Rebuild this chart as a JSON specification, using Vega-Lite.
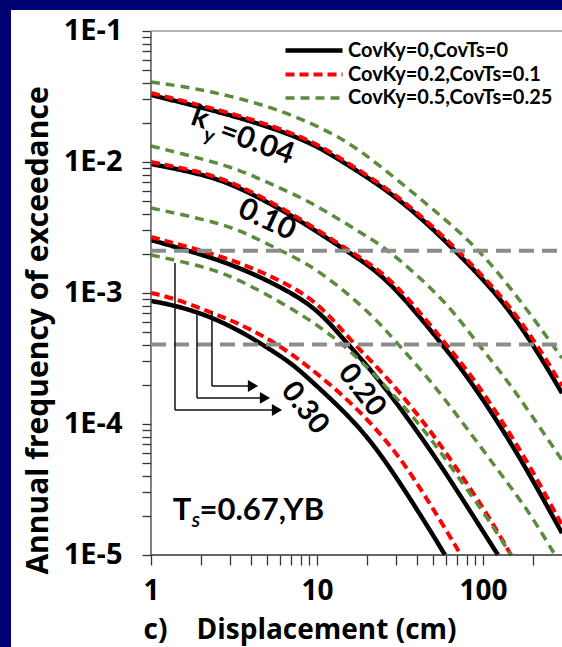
{
  "$schema": "https://vega.github.io/schema/vega-lite/v6.json",
  "width": 551,
  "height": 637,
  "autosize": {"type": "none"},
  "padding": {"left": 11, "top": 10, "right": 0, "bottom": 0},
  "background": "#000073",
  "config": {
    "view": {"fill": "white", "stroke": null},
    "font": "Lato"
  },
  "datasets": {
    "curves": [
      {"s": "CovKy=0,CovTs=0", "k": "0.04", "D": 1, "P": 0.03247},
      {"s": "CovKy=0,CovTs=0", "k": "0.04", "D": 3.437, "P": 0.02206},
      {"s": "CovKy=0,CovTs=0", "k": "0.04", "D": 8.706, "P": 0.01472},
      {"s": "CovKy=0,CovTs=0", "k": "0.04", "D": 13.76, "P": 0.01035},
      {"s": "CovKy=0,CovTs=0", "k": "0.04", "D": 31.62, "P": 0.005312},
      {"s": "CovKy=0,CovTs=0", "k": "0.04", "D": 67.81, "P": 0.002129},
      {"s": "CovKy=0,CovTs=0", "k": "0.04", "D": 126.6, "P": 0.000932},
      {"s": "CovKy=0,CovTs=0", "k": "0.04", "D": 200.1, "P": 0.000408},
      {"s": "CovKy=0,CovTs=0", "k": "0.04", "D": 299.2, "P": 0.000172},
      {"s": "CovKy=0,CovTs=0", "k": "0.10", "D": 1, "P": 0.009654},
      {"s": "CovKy=0,CovTs=0", "k": "0.10", "D": 2.175, "P": 0.00796},
      {"s": "CovKy=0,CovTs=0", "k": "0.10", "D": 3.437, "P": 0.006331},
      {"s": "CovKy=0,CovTs=0", "k": "0.10", "D": 5.431, "P": 0.004696},
      {"s": "CovKy=0,CovTs=0", "k": "0.10", "D": 8.706, "P": 0.003304},
      {"s": "CovKy=0,CovTs=0", "k": "0.10", "D": 14.75, "P": 0.002129},
      {"s": "CovKy=0,CovTs=0", "k": "0.10", "D": 21.75, "P": 0.001551},
      {"s": "CovKy=0,CovTs=0", "k": "0.10", "D": 31.62, "P": 0.001},
      {"s": "CovKy=0,CovTs=0", "k": "0.10", "D": 56.62, "P": 0.000408},
      {"s": "CovKy=0,CovTs=0", "k": "0.10", "D": 83.5, "P": 0.0002167},
      {"s": "CovKy=0,CovTs=0", "k": "0.10", "D": 132.0, "P": 0.00009},
      {"s": "CovKy=0,CovTs=0", "k": "0.10", "D": 191.9, "P": 0.0000408},
      {"s": "CovKy=0,CovTs=0", "k": "0.10", "D": 299.2, "P": 0.0000147},
      {"s": "CovKy=0,CovTs=0", "k": "0.20", "D": 1, "P": 0.002539},
      {"s": "CovKy=0,CovTs=0", "k": "0.20", "D": 2.175, "P": 0.001916},
      {"s": "CovKy=0,CovTs=0", "k": "0.20", "D": 3.437, "P": 0.001551},
      {"s": "CovKy=0,CovTs=0", "k": "0.20", "D": 5.431, "P": 0.001192},
      {"s": "CovKy=0,CovTs=0", "k": "0.20", "D": 8.706, "P": 0.000854},
      {"s": "CovKy=0,CovTs=0", "k": "0.20", "D": 11.49, "P": 0.000622},
      {"s": "CovKy=0,CovTs=0", "k": "0.20", "D": 15.16, "P": 0.000415},
      {"s": "CovKy=0,CovTs=0", "k": "0.20", "D": 23.96, "P": 0.0002167},
      {"s": "CovKy=0,CovTs=0", "k": "0.20", "D": 47.95, "P": 0.0000645},
      {"s": "CovKy=0,CovTs=0", "k": "0.20", "D": 72.67, "P": 0.0000287},
      {"s": "CovKy=0,CovTs=0", "k": "0.20", "D": 123.1, "P": 0.00001},
      {"s": "CovKy=0,CovTs=0", "k": "0.30", "D": 1, "P": 0.000869},
      {"s": "CovKy=0,CovTs=0", "k": "0.30", "D": 1.357, "P": 0.00081},
      {"s": "CovKy=0,CovTs=0", "k": "0.30", "D": 2.175, "P": 0.000679},
      {"s": "CovKy=0,CovTs=0", "k": "0.30", "D": 3.437, "P": 0.000513},
      {"s": "CovKy=0,CovTs=0", "k": "0.30", "D": 4.536, "P": 0.000415},
      {"s": "CovKy=0,CovTs=0", "k": "0.30", "D": 6.876, "P": 0.000297},
      {"s": "CovKy=0,CovTs=0", "k": "0.30", "D": 8.706, "P": 0.0002285},
      {"s": "CovKy=0,CovTs=0", "k": "0.30", "D": 17.42, "P": 0.0001018},
      {"s": "CovKy=0,CovTs=0", "k": "0.30", "D": 27.54, "P": 0.000047},
      {"s": "CovKy=0,CovTs=0", "k": "0.30", "D": 47.95, "P": 0.0000155},
      {"s": "CovKy=0,CovTs=0", "k": "0.30", "D": 59.03, "P": 0.00001},

      {"s": "CovKy=0.2,CovTs=0.1", "k": "0.04", "D": 1, "P": 0.03362},
      {"s": "CovKy=0.2,CovTs=0.1", "k": "0.04", "D": 3.437, "P": 0.02285},
      {"s": "CovKy=0.2,CovTs=0.1", "k": "0.04", "D": 8.706, "P": 0.01525},
      {"s": "CovKy=0.2,CovTs=0.1", "k": "0.04", "D": 13.76, "P": 0.01073},
      {"s": "CovKy=0.2,CovTs=0.1", "k": "0.04", "D": 31.62, "P": 0.0055},
      {"s": "CovKy=0.2,CovTs=0.1", "k": "0.04", "D": 70.69, "P": 0.002129},
      {"s": "CovKy=0.2,CovTs=0.1", "k": "0.04", "D": 132.0, "P": 0.000932},
      {"s": "CovKy=0.2,CovTs=0.1", "k": "0.04", "D": 211.5, "P": 0.000408},
      {"s": "CovKy=0.2,CovTs=0.1", "k": "0.04", "D": 299.2, "P": 0.000195},
      {"s": "CovKy=0.2,CovTs=0.1", "k": "0.10", "D": 1, "P": 0.01},
      {"s": "CovKy=0.2,CovTs=0.1", "k": "0.10", "D": 2.175, "P": 0.008241},
      {"s": "CovKy=0.2,CovTs=0.1", "k": "0.10", "D": 3.437, "P": 0.006559},
      {"s": "CovKy=0.2,CovTs=0.1", "k": "0.10", "D": 5.431, "P": 0.004864},
      {"s": "CovKy=0.2,CovTs=0.1", "k": "0.10", "D": 8.706, "P": 0.003422},
      {"s": "CovKy=0.2,CovTs=0.1", "k": "0.10", "D": 15.37, "P": 0.002129},
      {"s": "CovKy=0.2,CovTs=0.1", "k": "0.10", "D": 22.98, "P": 0.001551},
      {"s": "CovKy=0.2,CovTs=0.1", "k": "0.10", "D": 33.43, "P": 0.001},
      {"s": "CovKy=0.2,CovTs=0.1", "k": "0.10", "D": 59.86, "P": 0.000408},
      {"s": "CovKy=0.2,CovTs=0.1", "k": "0.10", "D": 89.5, "P": 0.0002167},
      {"s": "CovKy=0.2,CovTs=0.1", "k": "0.10", "D": 141.4, "P": 0.00009},
      {"s": "CovKy=0.2,CovTs=0.1", "k": "0.10", "D": 205.7, "P": 0.0000408},
      {"s": "CovKy=0.2,CovTs=0.1", "k": "0.10", "D": 299.2, "P": 0.0000169},
      {"s": "CovKy=0.2,CovTs=0.1", "k": "0.20", "D": 1, "P": 0.002677},
      {"s": "CovKy=0.2,CovTs=0.1", "k": "0.20", "D": 2.175, "P": 0.002056},
      {"s": "CovKy=0.2,CovTs=0.1", "k": "0.20", "D": 3.437, "P": 0.001694},
      {"s": "CovKy=0.2,CovTs=0.1", "k": "0.20", "D": 5.431, "P": 0.001325},
      {"s": "CovKy=0.2,CovTs=0.1", "k": "0.20", "D": 8.706, "P": 0.000965},
      {"s": "CovKy=0.2,CovTs=0.1", "k": "0.20", "D": 11.97, "P": 0.000668},
      {"s": "CovKy=0.2,CovTs=0.1", "k": "0.20", "D": 16.48, "P": 0.000415},
      {"s": "CovKy=0.2,CovTs=0.1", "k": "0.20", "D": 27.54, "P": 0.0002167},
      {"s": "CovKy=0.2,CovTs=0.1", "k": "0.20", "D": 47.95, "P": 0.00009},
      {"s": "CovKy=0.2,CovTs=0.1", "k": "0.20", "D": 65.96, "P": 0.0000504},
      {"s": "CovKy=0.2,CovTs=0.1", "k": "0.20", "D": 105.7, "P": 0.0000209},
      {"s": "CovKy=0.2,CovTs=0.1", "k": "0.20", "D": 147.5, "P": 0.00001},
      {"s": "CovKy=0.2,CovTs=0.1", "k": "0.30", "D": 1, "P": 0.001},
      {"s": "CovKy=0.2,CovTs=0.1", "k": "0.30", "D": 1.357, "P": 0.000916},
      {"s": "CovKy=0.2,CovTs=0.1", "k": "0.30", "D": 2.267, "P": 0.000716},
      {"s": "CovKy=0.2,CovTs=0.1", "k": "0.30", "D": 3.437, "P": 0.00058},
      {"s": "CovKy=0.2,CovTs=0.1", "k": "0.30", "D": 5.431, "P": 0.00043},
      {"s": "CovKy=0.2,CovTs=0.1", "k": "0.30", "D": 8.706, "P": 0.000282},
      {"s": "CovKy=0.2,CovTs=0.1", "k": "0.30", "D": 17.42, "P": 0.0001348},
      {"s": "CovKy=0.2,CovTs=0.1", "k": "0.30", "D": 30.33, "P": 0.0000601},
      {"s": "CovKy=0.2,CovTs=0.1", "k": "0.30", "D": 41.74, "P": 0.0000325},
      {"s": "CovKy=0.2,CovTs=0.1", "k": "0.30", "D": 55.08, "P": 0.0000185},
      {"s": "CovKy=0.2,CovTs=0.1", "k": "0.30", "D": 73.7, "P": 0.00001},

      {"s": "CovKy=0.5,CovTs=0.25", "k": "0.04", "D": 1, "P": 0.0408},
      {"s": "CovKy=0.5,CovTs=0.25", "k": "0.04", "D": 2.175, "P": 0.03545},
      {"s": "CovKy=0.5,CovTs=0.25", "k": "0.04", "D": 5.431, "P": 0.02629},
      {"s": "CovKy=0.5,CovTs=0.25", "k": "0.04", "D": 11.49, "P": 0.01755},
      {"s": "CovKy=0.5,CovTs=0.25", "k": "0.04", "D": 18.16, "P": 0.01235},
      {"s": "CovKy=0.5,CovTs=0.25", "k": "0.04", "D": 31.62, "P": 0.007037},
      {"s": "CovKy=0.5,CovTs=0.25", "k": "0.04", "D": 55.08, "P": 0.003937},
      {"s": "CovKy=0.5,CovTs=0.25", "k": "0.04", "D": 95.9, "P": 0.002129},
      {"s": "CovKy=0.5,CovTs=0.25", "k": "0.04", "D": 167.1, "P": 0.000884},
      {"s": "CovKy=0.5,CovTs=0.25", "k": "0.04", "D": 260.4, "P": 0.000408},
      {"s": "CovKy=0.5,CovTs=0.25", "k": "0.04", "D": 299.2, "P": 0.000319},
      {"s": "CovKy=0.5,CovTs=0.25", "k": "0.10", "D": 1, "P": 0.01325},
      {"s": "CovKy=0.5,CovTs=0.25", "k": "0.10", "D": 2.175, "P": 0.01035},
      {"s": "CovKy=0.5,CovTs=0.25", "k": "0.10", "D": 3.437, "P": 0.008687},
      {"s": "CovKy=0.5,CovTs=0.25", "k": "0.10", "D": 5.431, "P": 0.006675},
      {"s": "CovKy=0.5,CovTs=0.25", "k": "0.10", "D": 8.706, "P": 0.005128},
      {"s": "CovKy=0.5,CovTs=0.25", "k": "0.10", "D": 13.76, "P": 0.003607},
      {"s": "CovKy=0.5,CovTs=0.25", "k": "0.10", "D": 21.75, "P": 0.002539},
      {"s": "CovKy=0.5,CovTs=0.25", "k": "0.10", "D": 26.41, "P": 0.002129},
      {"s": "CovKy=0.5,CovTs=0.25", "k": "0.10", "D": 34.85, "P": 0.001607},
      {"s": "CovKy=0.5,CovTs=0.25", "k": "0.10", "D": 60.69, "P": 0.000839},
      {"s": "CovKy=0.5,CovTs=0.25", "k": "0.10", "D": 93.3, "P": 0.000408},
      {"s": "CovKy=0.5,CovTs=0.25", "k": "0.10", "D": 139.5, "P": 0.0002167},
      {"s": "CovKy=0.5,CovTs=0.25", "k": "0.10", "D": 191.9, "P": 0.0001213},
      {"s": "CovKy=0.5,CovTs=0.25", "k": "0.10", "D": 299.2, "P": 0.0000531},
      {"s": "CovKy=0.5,CovTs=0.25", "k": "0.20", "D": 1, "P": 0.004455},
      {"s": "CovKy=0.5,CovTs=0.25", "k": "0.20", "D": 2.175, "P": 0.003607},
      {"s": "CovKy=0.5,CovTs=0.25", "k": "0.20", "D": 3.437, "P": 0.003027},
      {"s": "CovKy=0.5,CovTs=0.25", "k": "0.20", "D": 5.431, "P": 0.002245},
      {"s": "CovKy=0.5,CovTs=0.25", "k": "0.20", "D": 8.706, "P": 0.001694},
      {"s": "CovKy=0.5,CovTs=0.25", "k": "0.20", "D": 13.76, "P": 0.001111},
      {"s": "CovKy=0.5,CovTs=0.25", "k": "0.20", "D": 21.75, "P": 0.000668},
      {"s": "CovKy=0.5,CovTs=0.25", "k": "0.20", "D": 30.33, "P": 0.000415},
      {"s": "CovKy=0.5,CovTs=0.25", "k": "0.20", "D": 47.95, "P": 0.0002167},
      {"s": "CovKy=0.5,CovTs=0.25", "k": "0.20", "D": 75.77, "P": 0.0001018},
      {"s": "CovKy=0.5,CovTs=0.25", "k": "0.20", "D": 132.0, "P": 0.0000394},
      {"s": "CovKy=0.5,CovTs=0.25", "k": "0.20", "D": 191.9, "P": 0.0000209},
      {"s": "CovKy=0.5,CovTs=0.25", "k": "0.20", "D": 271.4, "P": 0.00001},
      {"s": "CovKy=0.5,CovTs=0.25", "k": "0.30", "D": 1, "P": 0.00195},
      {"s": "CovKy=0.5,CovTs=0.25", "k": "0.30", "D": 2.175, "P": 0.001579},
      {"s": "CovKy=0.5,CovTs=0.25", "k": "0.30", "D": 3.437, "P": 0.001257},
      {"s": "CovKy=0.5,CovTs=0.25", "k": "0.30", "D": 6.876, "P": 0.000782},
      {"s": "CovKy=0.5,CovTs=0.25", "k": "0.30", "D": 13.76, "P": 0.000438},
      {"s": "CovKy=0.5,CovTs=0.25", "k": "0.30", "D": 27.54, "P": 0.000182},
      {"s": "CovKy=0.5,CovTs=0.25", "k": "0.30", "D": 47.95, "P": 0.0000796},
      {"s": "CovKy=0.5,CovTs=0.25", "k": "0.30", "D": 65.96, "P": 0.0000446},
      {"s": "CovKy=0.5,CovTs=0.25", "k": "0.30", "D": 105.7, "P": 0.0000195},
      {"s": "CovKy=0.5,CovTs=0.25", "k": "0.30", "D": 147.5, "P": 0.00001}
    ]
  },
  "layer": [
    {
      "data": {"name": "curves"},
      "mark": {"type": "line", "interpolate": "basis"},
      "encoding": {
        "x": {
          "field": "D", "type": "quantitative",
          "scale": {"type": "log", "domain": [0.1435, 299.2], "nice": false},
          "axis": {
            "values": [1, 2, 3, 4, 5, 6, 7, 8, 9, 10, 20, 30, 40, 50, 60, 70, 80, 90, 100, 200],
            "offset": -92,
            "domain": false,
            "grid": false,
            "ticks": true,
            "tickSize": 10,
            "tickWidth": 1.3,
            "tickColor": "#333333",
            "labelExpr": "datum.value == 1 ? '1' : datum.value == 10 ? '10' : datum.value == 100 ? '100' : ''",
            "labelFont": "Open Sans",
            "labelFontSize": 28,
            "labelFontWeight": "bold",
            "labelColor": "black",
            "labelBaseline": "alphabetic",
            "labelPadding": 34,
            "labelOverlap": false,
            "labelFlush": false,
            "labelBound": false,
            "title": "c)\u00a0\u00a0\u00a0\u00a0Displacement (cm)",
            "titleFont": "Open Sans",
            "titleFontSize": 28,
            "titleFontWeight": "bold",
            "titleColor": "black",
            "titleX": 132,
            "titleY": 83,
            "titleAlign": "left",
            "titleBaseline": "alphabetic"
          }
        },
        "y": {
          "field": "P", "type": "quantitative",
          "scale": {"type": "log", "domain": [0.000001985, 0.1445], "nice": false},
          "axis": {
            "values": [0.00001, 0.00002, 0.00003, 0.00004, 0.00005, 0.00006, 0.00007, 0.00008, 0.00009,
                       0.0001, 0.0002, 0.0003, 0.0004, 0.0005, 0.0006, 0.0007, 0.0008, 0.0009,
                       0.001, 0.002, 0.003, 0.004, 0.005, 0.006, 0.007, 0.008, 0.009,
                       0.01, 0.02, 0.03, 0.04, 0.05, 0.06, 0.07, 0.08, 0.09, 0.1],
            "offset": -140,
            "domain": false,
            "grid": false,
            "tickSize": 9,
            "tickWidth": 1.3,
            "tickColor": "#333333",
            "labelExpr": "datum.value == 0.1 ? '1E-1' : datum.value == 0.01 ? '1E-2' : datum.value == 0.001 ? '1E-3' : datum.value == 0.0001 ? '1E-4' : datum.value == 0.00001 ? '1E-5' : ''",
            "labelFont": "Open Sans",
            "labelFontSize": 29,
            "labelFontWeight": "bold",
            "labelColor": "black",
            "labelPadding": 20,
            "labelOverlap": false,
            "labelFlush": false,
            "labelBound": false,
            "title": "Annual frequency of exceedance",
            "titleFont": "Open Sans",
            "titleFontSize": 30,
            "titleFontWeight": "bold",
            "titleColor": "black",
            "titleX": -104,
            "titleY": 320,
            "titleAngle": -90,
            "titleAlign": "center",
            "titleBaseline": "alphabetic"
          }
        },
        "detail": {"field": "k"},
        "color": {
          "field": "s", "type": "nominal",
          "scale": {
            "domain": ["CovKy=0,CovTs=0", "CovKy=0.2,CovTs=0.1", "CovKy=0.5,CovTs=0.25"],
            "range": ["#000000", "#ff0000", "#5b8b3c"]
          },
          "legend": {
            "orient": "none",
            "legendX": 290.5,
            "legendY": 28,
            "title": null,
            "padding": 0,
            "symbolType": "M-2.85,0H2.85",
            "symbolSize": 400,
            "labelFont": "Lato",
            "labelFontSize": 20,
            "labelFontWeight": "bold",
            "labelColor": "black",
            "labelOffset": 21.5,
            "labelLimit": 400,
            "rowPadding": 1.5
          }
        },
        "strokeDash": {
          "field": "s", "type": "nominal",
          "scale": {
            "domain": ["CovKy=0,CovTs=0", "CovKy=0.2,CovTs=0.1", "CovKy=0.5,CovTs=0.25"],
            "range": [[1, 0], [9, 5], [9, 6]]
          }
        },
        "strokeWidth": {
          "field": "s", "type": "nominal",
          "scale": {
            "domain": ["CovKy=0,CovTs=0", "CovKy=0.2,CovTs=0.1", "CovKy=0.5,CovTs=0.25"],
            "range": [4.5, 3.5, 3]
          }
        }
      }
    },
    {
      "data": {"values": [{"D": 1, "P": 0.00001, "D2": 1, "P2": 0.1}]},
      "mark": {"type": "rule", "color": "#555555", "strokeWidth": 1.5},
      "encoding": {
        "x": {"field": "D", "type": "quantitative"},
        "y": {"field": "P", "type": "quantitative"},
        "x2": {"field": "D2"},
        "y2": {"field": "P2"}
      }
    },
    {
      "data": {"values": [{"D": 1, "P": 0.1, "D2": 299.2, "P2": 0.1}]},
      "mark": {"type": "rule", "color": "#9a9a9a", "strokeWidth": 1.5},
      "encoding": {
        "x": {"field": "D", "type": "quantitative"},
        "y": {"field": "P", "type": "quantitative"},
        "x2": {"field": "D2"},
        "y2": {"field": "P2"}
      }
    },
    {
      "data": {"values": [{"D": 1, "P": 0.00001, "D2": 299.2, "P2": 0.00001}]},
      "mark": {"type": "rule", "color": "#333333", "strokeWidth": 1.5},
      "encoding": {
        "x": {"field": "D", "type": "quantitative"},
        "y": {"field": "P", "type": "quantitative"},
        "x2": {"field": "D2"},
        "y2": {"field": "P2"}
      }
    },
    {
      "data": {"values": [{"D": 1, "P": 0.0021, "D2": 299.2, "P2": 0.0021}, {"D": 1, "P": 0.000404, "D2": 299.2, "P2": 0.000404}]},
      "mark": {"type": "rule", "color": "#8c8c8c", "strokeWidth": 4, "strokeDash": [15, 8]},
      "encoding": {
        "x": {"field": "D", "type": "quantitative"},
        "y": {"field": "P", "type": "quantitative"},
        "x2": {"field": "D2"},
        "y2": {"field": "P2"}
      }
    },
    {
      "data": {"values": [
        {"D": 1.395, "P": 0.001694, "D2": 1.395, "P2": 0.0001279},
        {"D": 1.395, "P": 0.0001279, "D2": 5.741, "P2": 0.0001279},
        {"D": 1.893, "P": 0.000704, "D2": 1.893, "P2": 0.000158},
        {"D": 1.893, "P": 0.000158, "D2": 4.861, "P2": 0.000158},
        {"D": 2.33, "P": 0.000729, "D2": 2.33, "P2": 0.000195},
        {"D": 2.33, "P": 0.000195, "D2": 4.117, "P2": 0.000195}
      ]},
      "mark": {"type": "rule", "color": "#111111", "strokeWidth": 1.5},
      "encoding": {
        "x": {"field": "D", "type": "quantitative"},
        "y": {"field": "P", "type": "quantitative"},
        "x2": {"field": "D2"},
        "y2": {"field": "P2"}
      }
    },
    {
      "data": {"values": [
        {"D": 5.741, "P": 0.0001279},
        {"D": 4.861, "P": 0.000158},
        {"D": 4.117, "P": 0.000195}
      ]},
      "mark": {"type": "point", "shape": "triangle-right", "filled": true, "color": "black", "size": 140, "opacity": 1},
      "encoding": {
        "x": {"field": "D", "type": "quantitative"},
        "y": {"field": "P", "type": "quantitative"}
      }
    },
    {
      "data": {"values": [{"D": 1.974, "P": 0.02167, "t": "k"}, {"D": 4.35, "P": 0.01396, "t": "=0.04"}]},
      "mark": {"type": "text", "font": "Lato", "fontWeight": "bold", "fontSize": 30, "angle": 20, "color": "black"},
      "encoding": {
        "x": {"field": "D", "type": "quantitative"},
        "y": {"field": "P", "type": "quantitative"},
        "text": {"field": "t"}
      }
    },
    {
      "data": {"values": [{"D": 2.236, "P": 0.0158, "t": "y"}]},
      "mark": {"type": "text", "font": "Lato", "fontWeight": "bold", "fontSize": 20, "angle": 20, "color": "black"},
      "encoding": {
        "x": {"field": "D", "type": "quantitative"},
        "y": {"field": "P", "type": "quantitative"},
        "text": {"field": "t"}
      }
    },
    {
      "data": {"values": [{"D": 5.0, "P": 0.003607, "t": "0.10"}]},
      "mark": {"type": "text", "font": "Lato", "fontWeight": "bold", "fontSize": 30, "angle": 25, "color": "black"},
      "encoding": {
        "x": {"field": "D", "type": "quantitative"},
        "y": {"field": "P", "type": "quantitative"},
        "text": {"field": "t"}
      }
    },
    {
      "data": {"values": [{"D": 18.67, "P": 0.0001817, "t": "0.20"}, {"D": 8.467, "P": 0.0001325, "t": "0.30"}]},
      "mark": {"type": "text", "font": "Lato", "fontWeight": "bold", "fontSize": 29, "angle": 52, "color": "black"},
      "encoding": {
        "x": {"field": "D", "type": "quantitative"},
        "y": {"field": "P", "type": "quantitative"},
        "text": {"field": "t"}
      }
    },
    {
      "data": {"values": [{"D": 1.54, "P": 0.00002167, "t": "T"}, {"D": 4.65, "P": 0.00002167, "t": "=0.67,YB"}]},
      "mark": {"type": "text", "font": "Lato", "fontWeight": "bold", "fontSize": 31, "color": "black"},
      "encoding": {
        "x": {"field": "D", "type": "quantitative"},
        "y": {"field": "P", "type": "quantitative"},
        "text": {"field": "t"}
      }
    },
    {
      "data": {"values": [{"D": 1.86, "P": 0.0000178, "t": "S"}]},
      "mark": {"type": "text", "font": "Lato", "fontWeight": "bold", "fontStyle": "italic", "fontSize": 16, "color": "black"},
      "encoding": {
        "x": {"field": "D", "type": "quantitative"},
        "y": {"field": "P", "type": "quantitative"},
        "text": {"field": "t"}
      }
    }
  ]
}
